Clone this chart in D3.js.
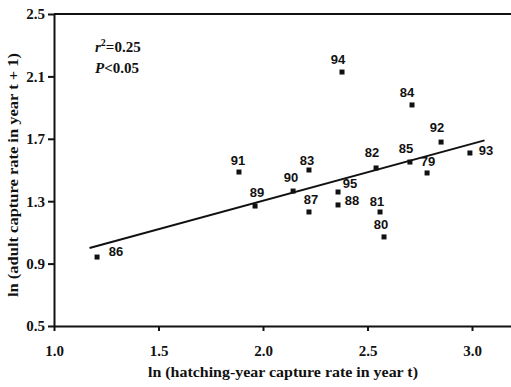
<!DOCTYPE html>
<html>
<head>
<meta charset="utf-8">
<script src="https://cdn.jsdelivr.net/npm/d3@7"></script>
<style>
  body { margin: 0; background: #fff; }
  .tick text { font-family: "Liberation Serif", serif; font-weight: bold; font-size: 15px; fill: #111; }
  .axisTitle { font-family: "Liberation Serif", serif; font-weight: bold; font-size: 15px; fill: #111; }
  .ptLabel { font-family: "Liberation Sans", Arial, sans-serif; font-weight: bold; font-size: 13px; fill: #111; }
  .stat { font-family: "Liberation Serif", serif; font-weight: bold; font-size: 15px; fill: #111; }
</style>
</head>
<body>
<div id="chart"></div>
<script>
// data
const years = ["86", "89", "91", "90", "83", "87", "95", "88", "94", "82", "81", "80", "85", "84", "79", "92", "93"];
const hatchRate = [1.206, 1.962, 1.885, 2.144, 2.22, 2.22, 2.359, 2.359, 2.378, 2.541, 2.56, 2.579, 2.703, 2.713, 2.785, 2.852, 2.99];
const adultRate = [0.942, 1.269, 1.487, 1.365, 1.50, 1.231, 1.359, 1.276, 2.128, 1.513, 1.231, 1.071, 1.551, 1.917, 1.481, 1.679, 1.609];
const fitX = [1.17, 3.06];
const fitY = [1.00, 1.69];
const xTicks = [1.0, 1.5, 2.0, 2.5, 3.0];
const yTicks = [0.5, 0.9, 1.3, 1.7, 2.1, 2.5];

// label offsets from the marker (px), by point
const labelOff = [[19,-6],[2,-14],[-1,-12],[-2,-14],[-2,-10],[2,-12],[12,-8],[14,-4],[-4,-13],[-4,-15],[-3,-10],[-3,-12],[-4,-14],[-5,-12],[1,-11],[-4,-15],[16,-2]];

const W = 511, H = 387;
const svg = d3.select("#chart").append("svg").attr("width", W).attr("height", H);

const x = d3.scaleLinear().domain([1.0, 3.2]).range([54, 54 + 209 * 2.2]);
const y = d3.scaleLinear().domain([0.5, 2.5]).range([326, 14]);

// frame top line
svg.append("line")
  .attr("x1", x(1.0)).attr("x2", W)
  .attr("y1", y(2.5)).attr("y2", y(2.5))
  .attr("stroke", "#111").attr("stroke-width", 2);

const xAxis = svg.append("g")
  .attr("transform", "translate(0," + y(0.5) + ")")
  .call(d3.axisBottom(x).tickValues(xTicks).tickFormat(d3.format(".1f")).tickSize(5).tickSizeOuter(0).tickPadding(14));
xAxis.select(".domain").attr("stroke-width", 2).attr("stroke", "#111");
xAxis.selectAll(".tick line").attr("stroke-width", 2).attr("stroke", "#111");

const yAxis = svg.append("g")
  .attr("transform", "translate(" + x(1.0) + ",0)")
  .call(d3.axisLeft(y).tickValues(yTicks).tickFormat(d3.format(".1f")).tickSize(6).tickSizeOuter(0).tickPadding(3));
yAxis.select(".domain").attr("stroke-width", 2).attr("stroke", "#111");
yAxis.selectAll(".tick line").attr("stroke-width", 2).attr("stroke", "#111");

// regression line
svg.append("line")
  .attr("x1", x(fitX[0])).attr("y1", y(fitY[0]))
  .attr("x2", x(fitX[1])).attr("y2", y(fitY[1]))
  .attr("stroke", "#111").attr("stroke-width", 2);

const pts = years.map((d, i) => ({ yr: d, hx: hatchRate[i], ay: adultRate[i], off: labelOff[i] }));

svg.selectAll("rect.pt").data(pts).enter().append("rect")
  .attr("class", "pt")
  .attr("x", d => x(d.hx) - 2.5)
  .attr("y", d => y(d.ay) - 2.5)
  .attr("width", 5).attr("height", 5)
  .attr("fill", "#111");

svg.selectAll("text.ptLabel").data(pts).enter().append("text")
  .attr("class", "ptLabel")
  .attr("text-anchor", "middle")
  .attr("x", d => x(d.hx) + d.off[0])
  .attr("y", d => y(d.ay) + d.off[1] + 4.5)
  .text(d => d.yr);

// stats
const s1 = svg.append("text").attr("class", "stat").attr("x", 95).attr("y", 52);
s1.append("tspan").attr("font-style", "italic").text("r");
s1.append("tspan").attr("font-size", "10px").attr("dy", -6).text("2");
s1.append("tspan").attr("dy", 6).text("=0.25");
const s2 = svg.append("text").attr("class", "stat").attr("x", 95).attr("y", 73);
s2.append("tspan").attr("font-style", "italic").text("P");
s2.append("tspan").text("<0.05");

// axis titles
svg.append("text").attr("class", "axisTitle")
  .attr("text-anchor", "middle")
  .attr("x", 283).attr("y", 377)
  .attr("textLength", 270).attr("lengthAdjust", "spacingAndGlyphs")
  .text("ln (hatching-year capture rate in year t)");

svg.append("text").attr("class", "axisTitle")
  .attr("text-anchor", "middle")
  .attr("transform", "translate(18,175) rotate(-90)")
  .attr("textLength", 244).attr("lengthAdjust", "spacingAndGlyphs")
  .text("ln (adult capture rate in year t + 1)");
</script>
</body>
</html>
